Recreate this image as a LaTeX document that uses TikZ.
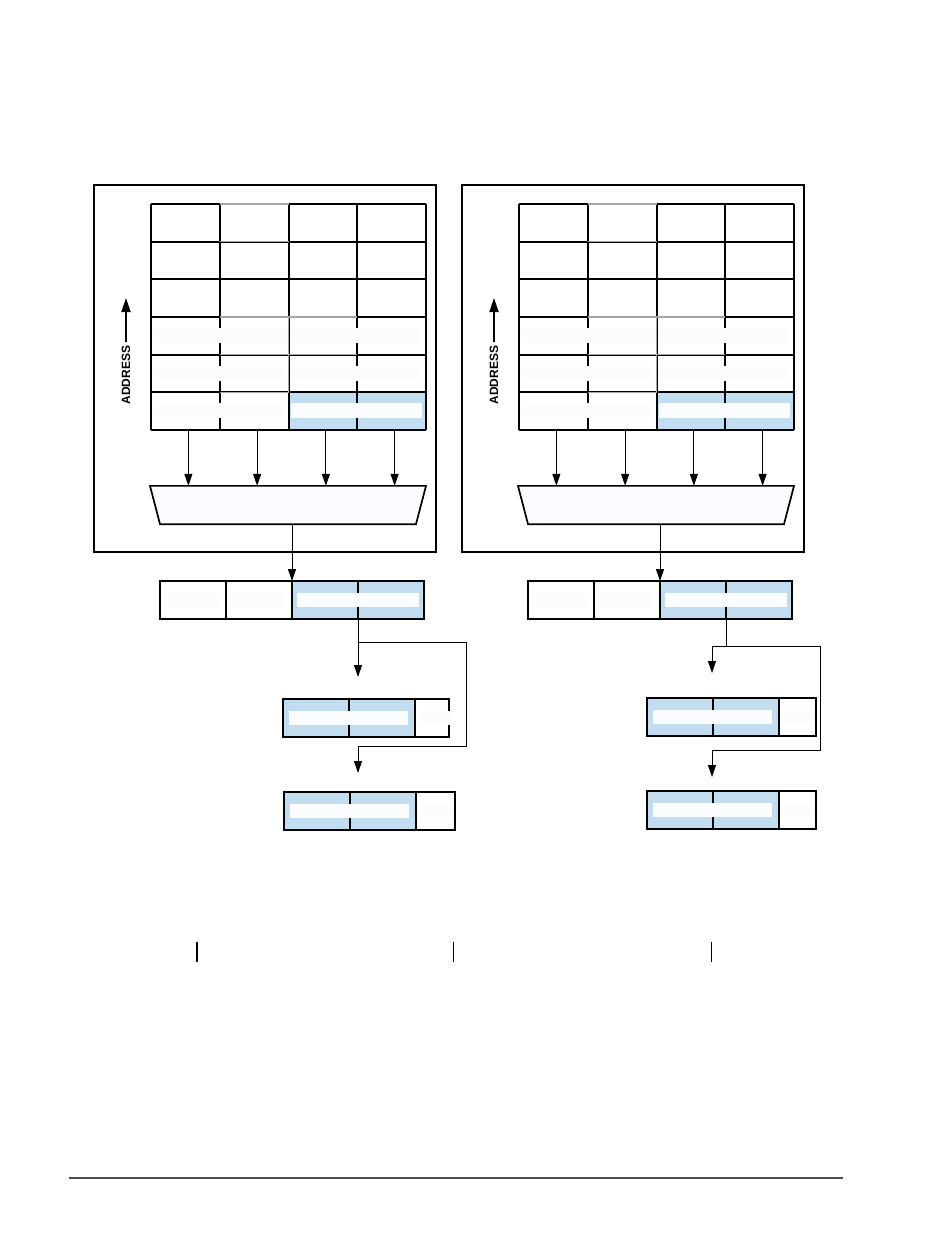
\documentclass[tikz,border=0pt]{standalone}
\usepackage{fontspec}
\setsansfont{Liberation Sans}
\usetikzlibrary{positioning, shapes.geometric, arrows.meta, calc, backgrounds}

\definecolor{cellblue}{HTML}{C2DCF0}
\definecolor{stripwhite}{HTML}{FAFCFF}
\definecolor{faintstrip}{HTML}{FAFCFE}
\definecolor{muxfill}{HTML}{FAFCFF}

\begin{document}
\begin{tikzpicture}[
    x=1pt, y=-1pt,
    font=\sffamily\bfseries,
    frame/.style={draw=black, line width=1.7pt, minimum width=342pt, minimum height=367pt, inner sep=0pt},
    cell/.style={minimum width=68.75pt, minimum height=37.67pt, inner sep=0pt, outer sep=0pt},
    gridline/.style={line width=2pt, black},
    softline/.style={line width=1.6pt, gray!70},
    regcell/.style={draw, line width=2pt, minimum width=66pt, minimum height=38pt, inner sep=0pt, outer sep=0pt},
    muxbox/.style={minimum width=276pt, minimum height=38.3pt, inner sep=0pt, outer sep=0pt},
    muxline/.style={draw, line width=1.7pt, fill=muxfill, line join=miter},
    feed/.style={-{Triangle[length=12pt,width=8pt]}, line width=1pt},
    addrarrow/.style={-{Triangle[length=14pt,width=9pt]}, line width=1.8pt}
]
\useasboundingbox (0,0) rectangle (950,1246);

% Two memory panels
\foreach \p/\dx in {L/0,R/368}{
\begin{scope}[xshift=\dx]
    % Frame
    \node[frame] (\p-box) at (265,368.5) {};

    % Memory cells
    \foreach \r in {1,...,6}
        \foreach \c in {1,...,4}
            \node[cell] (\p-\r-\c) at ({151+68.75*(\c-0.5)},{204+37.67*(\r-0.5)}) {};
    \fill[cellblue] (\p-6-3.north west) rectangle (\p-6-4.south east);

    \draw[gridline] (\p-1-2.north west) -- (\p-6-2.south west);
    \draw[gridline] (\p-1-4.north west) -- (\p-6-4.south west);

    \fill[faintstrip] (153,328) rectangle (420,343);
    \fill[faintstrip] (153,366) rectangle (282,381);
    \fill[faintstrip] (290,366) rectangle (420,381);
    \fill[faintstrip] (153,403) rectangle (282,418);
    \fill[stripwhite] (291,403) rectangle (422,417.5);

    \foreach \r in {1,...,6}
        \draw[gridline] (\p-\r-1.north west) -- (\p-\r-4.north east);
    \draw[gridline] (\p-6-1.south west) -- (\p-6-4.south east);
    \draw[gridline] (\p-1-1.north west) -- (\p-6-1.south west);
    \draw[gridline] (\p-1-3.north west) -- (\p-6-3.south west);
    \draw[gridline] (\p-1-4.north east) -- (\p-6-4.south east);

    \draw[softline] (\p-1-2.north west) -- (\p-1-2.north east);
    \draw[softline] (\p-2-2.north west) -- (\p-2-2.north east);
    \draw[softline] (\p-4-2.north west) -- (\p-4-3.north east);
    \draw[softline] (\p-5-2.north west) -- (\p-5-3.north east);
    \draw[softline] (\p-6-2.north west) -- (\p-6-2.north east);
    \draw[softline] (\p-4-3.north west) -- (\p-5-3.south west);

    % Address direction
    \node[rotate=90, font=\sffamily\bfseries\fontsize{12}{13}\selectfont, inner sep=3pt] (\p-addr) at (126,375) {ADDRESS};
    \coordinate (\p-addrtip) at (126,298);
    \draw[addrarrow] (\p-addr.east) -- (\p-addrtip);

    % Multiplexer
    \node[muxbox] (\p-mux) at (288,505) {};
    \path[muxline] (\p-mux.north west) -- (\p-mux.north east)
        -- ([xshift=-10pt]\p-mux.south east) -- ([xshift=10pt]\p-mux.south west) -- cycle;
    \foreach \c in {1,...,4}{
        \coordinate (\p-in-\c) at ([xshift=3pt]\p-6-\c.south);
        \draw[feed] (\p-in-\c) -- (\p-in-\c |- \p-mux.north);
    }

    % Output register
    \node[regcell] (\p-reg-1) at (193,600) {};
    \node[regcell, right=0pt of \p-reg-1] (\p-reg-2) {};
    \node[regcell, right=0pt of \p-reg-2] (\p-reg-3) {};
    \node[regcell, right=0pt of \p-reg-3] (\p-reg-4) {};
    \begin{scope}[on background layer]
        \fill[cellblue] (\p-reg-3.north west) rectangle (\p-reg-4.south east);
    \end{scope}
    \fill[faintstrip] (168,593) rectangle (222,608);
    \fill[faintstrip] (231,593) rectangle (285,608);
    \fill[stripwhite] (296.5,592.5) rectangle (418.5,606.5);

    \draw[feed] (\p-mux.south -| \p-reg-2.north east) -- (\p-reg-2.north east);
\end{scope}
}

% Left result registers
\node[regcell] (L-outA-1) at (316,718) {};
\node[regcell, right=0pt of L-outA-1] (L-outA-2) {};
\node[regcell, minimum width=34pt, right=0pt of L-outA-2] (L-outA-3) {};
\node[regcell] (L-outB-1) at (317,811) {};
\node[regcell, right=0pt of L-outB-1] (L-outB-2) {};
\node[regcell, minimum width=39pt, right=0pt of L-outB-2] (L-outB-3) {};

% Right result registers
\node[regcell] (R-outA-1) at (680,717) {};
\node[regcell, right=0pt of R-outA-1] (R-outA-2) {};
\node[regcell, minimum width=37pt, right=0pt of R-outA-2] (R-outA-3) {};
\node[regcell] (R-outB-1) at (680,810) {};
\node[regcell, right=0pt of R-outB-1] (R-outB-2) {};
\node[regcell, minimum width=37pt, right=0pt of R-outB-2] (R-outB-3) {};

\begin{scope}[on background layer]
    \foreach \q in {L-outA,L-outB,R-outA,R-outB}
        \fill[cellblue] (\q-1.north west) rectangle (\q-2.south east);
\end{scope}
\foreach \q in {L-outA,L-outB,R-outA,R-outB}{
    \fill[stripwhite] ($(\q-1.west)+(6,-7)$) rectangle ($(\q-2.east)+(-7,7)$);
    \fill[faintstrip] ($(\q-3.west)+(4,-7)$) rectangle ($(\q-3.east)+(-2,7)$);
}
\fill[faintstrip] ($(L-outA-3.east)+(-2,-7)$) rectangle ($(L-outA-3.east)+(1,7)$);

% Left routing
\coordinate (L-bend) at (358,642);
\coordinate (L-loop) at (466,746);
\coordinate (L-tipA) at (358,677);
\coordinate (L-tipB) at (358,773);
\draw[feed] (L-reg-3.south east) -- (L-tipA);
\draw[feed] (L-bend) -| (L-loop) -| (L-tipB);

% Right routing
\coordinate (R-bend) at (726,646);
\coordinate (R-loop) at (820.7,750);
\coordinate (R-tipA) at (712,673);
\coordinate (R-tipB) at (712,777);
\draw[line width=1pt] (R-reg-3.south east) -- (R-bend);
\draw[feed] (R-bend) -| (R-tipA);
\draw[feed] (R-bend) -| (R-loop) -| (R-tipB);

% Scale ticks and page rule
\foreach \x in {197,453.5,711.5}
    \draw[line width=1.8pt] (\x,941.5) -- (\x,962);
\draw[line width=1.5pt, black!70] (69,1178) -- (843,1178);

\end{tikzpicture}
\end{document}
